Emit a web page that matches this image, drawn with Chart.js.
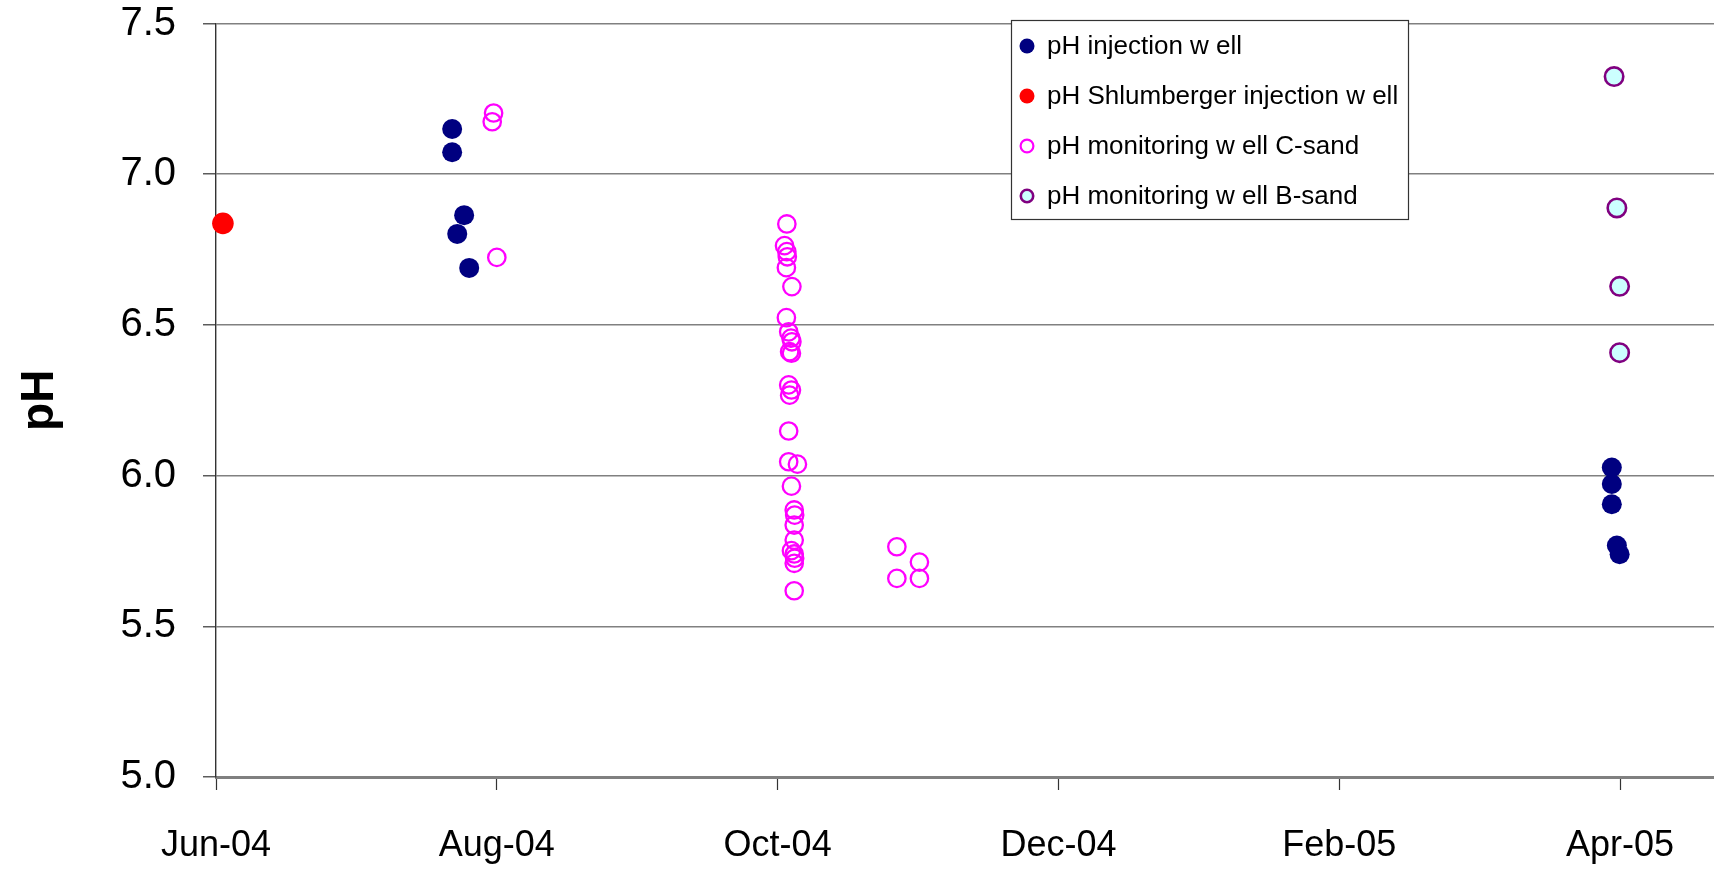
<!DOCTYPE html>
<html>
<head>
<meta charset="utf-8">
<title>pH of injection and monitoring wells</title>
<script src="https://cdn.jsdelivr.net/npm/chart.js@4.4.1/dist/chart.umd.min.js"></script>
<style>
  html, body { margin: 0; padding: 0; background: #ffffff; }
  #wrap { width: 1714px; height: 869px; }
</style>
</head>
<body>
<div id="wrap"><canvas id="phChart" width="1714" height="869"></canvas></div>
<script>
// Sampling times are kept as days elapsed since 1 June 2004.
const xTickDays   = [0, 61, 122, 183, 244, 305];
const xTickLabels = ['Jun-04', 'Aug-04', 'Oct-04', 'Dec-04', 'Feb-05', 'Apr-05'];
const yTickValues = [5.0, 5.5, 6.0, 6.5, 7.0, 7.5];

const seriesLabels = [
  'pH injection w ell',
  'pH Shlumberger injection w ell',
  'pH monitoring w ell C-sand',
  'pH monitoring w ell B-sand'
];

// pH injection well
const injectionDays = [51.3, 51.3, 53.9, 52.4, 55.0, 303.2, 303.2, 303.2, 304.3, 304.9];
const injectionPH   = [7.150, 7.073, 6.864, 6.802, 6.689, 6.027, 5.972, 5.905, 5.768, 5.739];

// pH Shlumberger injection well
const shlumbergerDays = [1.5];
const shlumbergerPH   = [6.837];

// pH monitoring well, C-sand
const cSandDays = [
  60.3, 60.0, 61.0,
  124.0, 123.5, 124.0, 124.1, 123.9, 125.1, 123.9, 124.4, 124.9, 125.1,
  124.6, 125.0, 124.4, 125.0, 124.6, 124.4, 124.4, 126.3, 125.0, 125.6,
  125.7, 125.6, 125.6, 125.0, 125.6, 125.7, 125.6, 125.6,
  147.9, 152.8, 147.9, 152.8
];
const cSandPH = [
  7.203, 7.174, 6.724,
  6.835, 6.763, 6.743, 6.726, 6.690, 6.627, 6.524, 6.477, 6.456, 6.444,
  6.411, 6.406, 6.301, 6.284, 6.267, 6.148, 6.046, 6.038, 5.965, 5.886,
  5.869, 5.836, 5.786, 5.751, 5.740, 5.726, 5.709, 5.618,
  5.764, 5.713, 5.659, 5.659
];

// pH monitoring well, B-sand
const bSandDays = [303.7, 304.3, 304.9, 304.9];
const bSandPH   = [7.324, 6.888, 6.628, 6.408];

const FONT = '"Liberation Sans", Arial, Helvetica, sans-serif';

function toPoints(days, values) {
  return days.map((d, i) => ({ x: d, y: values[i] }));
}

// Boxed legend drawn inside the plot, one row per dataset.
const boxedLegend = {
  id: 'boxedLegend',
  afterDraw(chart, args, opts) {
    const ctx = chart.ctx;
    ctx.save();
    ctx.fillStyle = '#ffffff';
    ctx.fillRect(opts.left, opts.top, opts.width, opts.height);
    ctx.strokeStyle = '#333333';
    ctx.lineWidth = 1.2;
    ctx.strokeRect(opts.left + 0.5, opts.top + 0.5, opts.width, opts.height);
    ctx.font = opts.fontSize + 'px ' + FONT;
    ctx.textBaseline = 'middle';
    ctx.textAlign = 'left';
    chart.data.datasets.forEach((ds, i) => {
      const y = opts.top + opts.firstRow + i * opts.rowGap;
      const bw = ds.legendBorder;
      ctx.beginPath();
      ctx.arc(opts.markerX, y, opts.markerRadius - bw / 2, 0, Math.PI * 2);
      if (ds.backgroundColor !== 'transparent') {
        ctx.fillStyle = ds.backgroundColor;
        ctx.fill();
      }
      if (bw > 0) {
        ctx.lineWidth = bw;
        ctx.strokeStyle = ds.borderColor;
        ctx.stroke();
      }
      ctx.fillStyle = '#000000';
      ctx.fillText(ds.label, opts.textX, y + 1);
    });
    ctx.restore();
  }
};

new Chart(document.getElementById('phChart'), {
  type: 'scatter',
  data: {
    datasets: [
      {
        label: seriesLabels[0],
        data: toPoints(injectionDays, injectionPH),
        backgroundColor: '#000080', borderColor: '#000080',
        borderWidth: 0, pointRadius: 10, legendBorder: 0, order: 4
      },
      {
        label: seriesLabels[1],
        data: toPoints(shlumbergerDays, shlumbergerPH),
        backgroundColor: '#ff0000', borderColor: '#ff0000',
        borderWidth: 0, pointRadius: 10.8, legendBorder: 0, order: 3
      },
      {
        label: seriesLabels[2],
        data: toPoints(cSandDays, cSandPH),
        backgroundColor: 'transparent', borderColor: '#ff00ff',
        borderWidth: 2.3, pointRadius: 8.7, legendBorder: 2.2, order: 2
      },
      {
        label: seriesLabels[3],
        data: toPoints(bSandDays, bSandPH),
        backgroundColor: '#ccffff', borderColor: '#800080',
        borderWidth: 2.6, pointRadius: 9.2, legendBorder: 2.6, order: 1
      }
    ]
  },
  options: {
    responsive: false,
    animation: false,
    devicePixelRatio: 1,
    clip: false,
    layout: { autoPadding: false, padding: { top: 23.5, right: 0, bottom: 0, left: 0 } },
    plugins: {
      legend: { display: false },
      tooltip: { enabled: false },
      boxedLegend: {
        left: 1011, top: 20, width: 397, height: 199,
        firstRow: 26, rowGap: 50, markerX: 1027, markerRadius: 7.5,
        textX: 1047, fontSize: 26
      }
    },
    scales: {
      x: {
        type: 'linear',
        min: 0,
        max: 325.4,
        afterBuildTicks: (scale) => { scale.ticks = xTickDays.map(v => ({ value: v })); },
        afterFit: (scale) => {
          scale.height = 92;
          scale.paddingLeft = 0;
          scale.paddingRight = 0;
        },
        grid: { drawOnChartArea: false, drawTicks: true, tickLength: 13, tickColor: '#333333', tickWidth: 1.2 },
        border: { display: true, color: '#808080', width: 3 },
        ticks: {
          autoSkip: false, maxRotation: 0, minRotation: 0, padding: 34,
          color: '#000000', font: { family: FONT, size: 36 },
          callback: (value, index) => xTickLabels[index]
        }
      },
      y: {
        min: yTickValues[0],
        max: yTickValues[yTickValues.length - 1],
        afterBuildTicks: (scale) => { scale.ticks = yTickValues.map(v => ({ value: v })); },
        afterFit: (scale) => { scale.width = 216; scale.paddingTop = 0; scale.paddingBottom = 0; },
        grid: { color: '#808080', lineWidth: 1.6, tickLength: 13, tickColor: '#333333', tickWidth: 1.2 },
        border: { display: true, color: '#333333', width: 1.4 },
        ticks: {
          padding: 27, color: '#000000', font: { family: FONT, size: 40 },
          callback: (value) => Number(value).toFixed(1)
        },
        title: {
          display: true, text: 'pH', color: '#000000',
          font: { family: FONT, size: 46, weight: 'bold' },
          padding: { top: 13, bottom: 0 }
        }
      }
    }
  },
  plugins: [boxedLegend]
});
</script>
</body>
</html>
